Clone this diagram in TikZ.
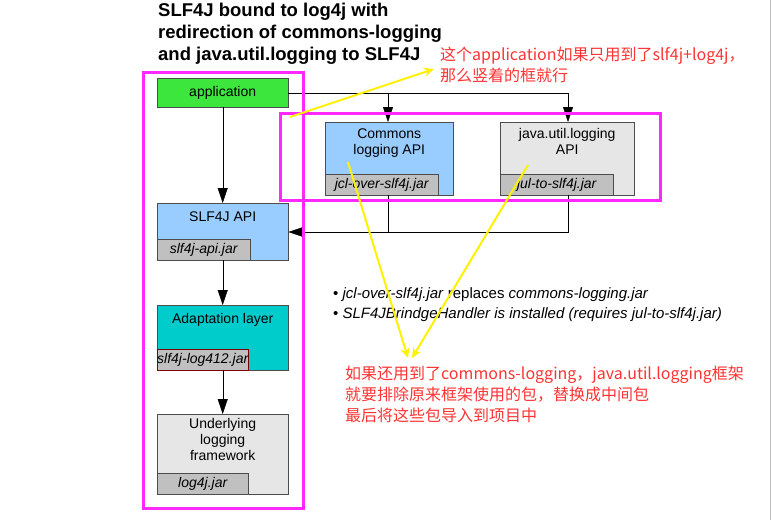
\documentclass[tikz,border=0pt]{standalone}
\usepackage{fontspec}
\setmainfont{Liberation Sans}
\newfontfamily\cjk{Noto Sans CJK SC}
\usetikzlibrary{arrows.meta}
\definecolor{appgreen}{RGB}{61,230,61}
\definecolor{apiblue}{RGB}{153,204,255}
\definecolor{lightbox}{RGB}{230,230,230}
\definecolor{jargray}{RGB}{192,192,192}
\definecolor{adapt}{RGB}{0,204,204}
\definecolor{note}{RGB}{255,51,51}
\definecolor{markpink}{RGB}{255,40,255}
\tikzset{
  box/.style={draw=black!70, anchor=north west, inner sep=1pt, align=center, font=\fontsize{14}{16}\selectfont},
  jar/.style={draw=black!70, fill=jargray, anchor=south west, minimum height=21pt, inner sep=0pt, font=\fontsize{14}{16}\selectfont\itshape},
  flow/.style={-{Triangle[width=10pt,length=15pt]}, black},
  markbox/.style={draw=markpink, line width=3pt},
  hint/.style={yellow, line width=2pt, -{Stealth[length=10pt,width=9pt]}},
  redtext/.style={anchor=north west, inner sep=0pt, text=note, font=\fontsize{16}{21}\selectfont\cjk, align=left}
}
\begin{document}
\begin{tikzpicture}[x=1pt,y=1pt,yscale=-1]
\useasboundingbox[fill=white] (0,0) rectangle (782,520);
\draw[black!25] (770,0) -- (770,520);

% title
\node[anchor=north west, inner sep=0pt, align=left, font=\fontsize{18.5}{22}\selectfont\bfseries] (title) at (158,3)
  {SLF4J bound to log4j with\\redirection of commons-logging\\and java.util.logging to SLF4J};

% boxes
\node[box, fill=appgreen, minimum width=131pt, minimum height=29pt] (app) at (157,78) {application};
\node[box, fill=apiblue, minimum width=128pt, minimum height=73pt, text depth=34pt] (jcl) at (325,122) {Commons\\logging API};
\node[jar, minimum width=113pt] (jcljar) at (jcl.south west) {jcl-over-slf4j.jar};
\node[box, fill=lightbox, minimum width=134pt, minimum height=73pt, text depth=34pt] (jul) at (500,122) {java.util.logging\\API};
\node[jar, minimum width=113pt] (juljar) at (jul.south west) {jul-to-slf4j.jar};
\node[box, fill=apiblue, minimum width=131pt, minimum height=57pt, text depth=30pt] (api) at (157,203) {SLF4J API};
\node[jar, minimum width=93pt] (apijar) at (api.south west) {slf4j-api.jar};
\node[box, fill=adapt, minimum width=131pt, minimum height=65pt, text depth=38pt] (adapt) at (157,305) {Adaptation layer};
\node[jar, draw=red!50!black, minimum width=87pt] (adaptjar) at (adapt.south west) {slf4j-log412.jar};
\node[box, fill=lightbox, minimum width=131pt, minimum height=80pt, text depth=30pt] (under) at (157,414) {Underlying\\logging\\framework};
\node[jar, minimum width=91pt] (underjar) at (under.south west) {log4j.jar};

% connectors
\coordinate (split1) at (388,92.5);
\coordinate (split2) at (568,92.5);
\coordinate (join1) at (388,232);
\coordinate (join2) at (568,232);
\draw[flow] (app) -- (api);
\draw (app.east) -- (app.east -| split2);
\draw[flow] (app.east -| split1) -- (split1 |- jcl.north);
\draw[flow] (app.east -| split2) -- (split2 |- jul.north);
\draw (split1 |- jcl.south) -- (join1);
\draw (join2 |- jul.south) -- (join2) -- (join1);
\draw[flow] (join1) -- (api.east |- join1);
\draw[flow] (api) -- (adapt);
\draw[flow] (adapt) -- (under);

% bullets
\node[anchor=north west, inner sep=0pt, align=left, font=\fontsize{15}{20}\selectfont] (notes) at (333,287)
  {\textbullet\ \textit{jcl-over-slf4j.jar} replaces \textit{commons-logging.jar}\\
   \textbullet\ \textit{SLF4JBrindgeHandler is installed (requires jul-to-slf4j.jar)}};

% highlights
\draw[markbox] (143,72) rectangle (303,508);
\draw[markbox] (280,113) rectangle (660,200);
\node[redtext] (note1) at (440,47) {这个application如果只用到了slf4j+log4j，\\那么竖着的框就行};
\node[redtext] (note2) at (345,366) {如果还用到了commons-logging，java.util.logging框架\\就要排除原来框架使用的包，替换成中间包\\最后将这些包导入到项目中};
\coordinate (from1) at (290,117);
\coordinate (from2) at (348,162);
\coordinate (from3) at (528,165);
\coordinate (to1) at (434,69);
\coordinate (to2) at (408,358);
\coordinate (to3) at (412,358);
\draw[hint] (from1) -- (to1);
\draw[hint] (from2) -- (to2);
\draw[hint] (from3) -- (to3);
\end{tikzpicture}
\end{document}
